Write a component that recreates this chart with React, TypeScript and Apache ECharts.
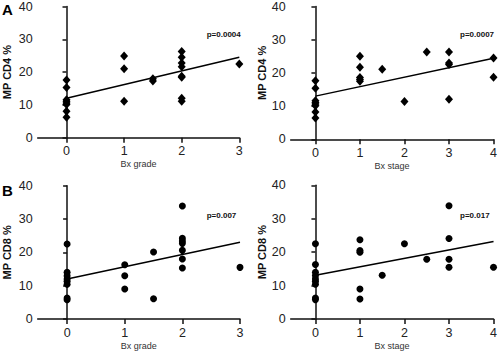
import React, { useEffect, useRef } from "react";
import * as echarts from "echarts";

// Panel A (left): MP CD4 % vs Bx grade
const cd4Grade: [number, number[]][] = [
  [0, [17.6, 15.3, 11.6, 11.1, 10.6, 10.1, 8.1, 6.2]],
  [1, [24.9, 21.0, 11.1]],
  [1.5, [18.0, 17.3]],
  [2, [26.3, 24.5, 22.8, 21.6, 18.7, 18.4, 12.0, 11.1]],
  [3, [22.5]],
];
// Panel A (right): MP CD4 % vs Bx stage
const cd4Stage: [number, number[]][] = [
  [0, [17.6, 15.4, 11.6, 11.1, 10.6, 10.1, 8.2, 6.4]],
  [1, [25.0, 21.7, 18.6, 18.0, 17.5]],
  [1.5, [21.1]],
  [2, [11.4]],
  [2.5, [26.3]],
  [3, [26.3, 23.0, 22.5, 12.1]],
  [4, [24.5, 18.7]],
];
// Panel B (left): MP CD8 % vs Bx grade
const cd8Grade: [number, number[]][] = [
  [0, [22.5, 14.0, 13.0, 12.0, 11.3, 10.4, 6.3, 5.8]],
  [1, [16.3, 13.0, 9.0]],
  [1.5, [20.1, 6.1]],
  [2, [33.9, 24.2, 23.4, 22.7, 20.6, 18.0, 15.3]],
  [3, [15.5]],
];
// Panel B (right): MP CD8 % vs Bx stage
const cd8Stage: [number, number[]][] = [
  [0, [22.5, 16.3, 14.0, 13.0, 12.0, 11.3, 10.4, 6.3, 5.8]],
  [1, [23.7, 20.5, 20.0, 9.0, 6.0]],
  [1.5, [13.1]],
  [2, [22.5]],
  [2.5, [17.9]],
  [3, [33.9, 24.1, 17.9, 15.5]],
  [4, [15.5]],
];

// Regression lines: [x, y] at the ends
const fitCd4Grade = [[0, 12.0], [3, 24.5]];
const fitCd4Stage = [[0, 13.0], [4, 24.4]];
const fitCd8Grade = [[0, 12.0], [3, 23.0]];
const fitCd8Stage = [[0, 13.1], [4, 23.2]];

const gradeTicks = [0, 1, 2, 3];
const stageTicks = [0, 1, 2, 3, 4];
const yTicks = [0, 10, 20, 30, 40];
const pValues = ["p=0.0004", "p=0.0007", "p=0.007", "p=0.017"];
const yNames = ["MP CD4 %", "MP CD4 %", "MP CD8 %", "MP CD8 %"];
const xNames = ["Bx grade", "Bx stage", "Bx grade", "Bx stage"];
const panelLetters = ["A", "B"];

const flatten = (groups: [number, number[]][]) =>
  groups.flatMap(([x, ys]) => ys.map((y) => [x, y]));

export default function App() {
  const ref = useRef<HTMLDivElement>(null);
  useEffect(() => {
    if (!ref.current) return;
    const chart = echarts.init(ref.current, undefined, { renderer: "svg" });
    const font = "Liberation Sans, Arial, sans-serif";
    const grids = [
      { left: 37.7, top: 4.3, width: 201.6, height: 133.4 },
      { left: 290.7, top: 5, width: 205.3, height: 134.3 },
      { left: 37.7, top: 185.7, width: 202.3, height: 133.6 },
      { left: 290.7, top: 185.3, width: 205.3, height: 134 },
    ];
    const xMins = [-0.5, -0.555, -0.51, -0.555];
    const xTickSets = [gradeTicks, stageTicks, gradeTicks, stageTicks];
    const yGaps = [25, 21, 25, 21];
    const axisLine = { lineStyle: { color: "#111", width: 1.5 } };
    const xAxis = grids.map((_, i) => ({
      type: "value",
      gridIndex: i,
      min: xMins[i],
      max: xTickSets[i][xTickSets[i].length - 1],
      name: xNames[i],
      nameLocation: "middle",
      nameGap: 22,
      nameTextStyle: { fontFamily: "Liberation Sans Narrow, Liberation Sans, sans-serif", fontSize: 9, color: "#333" },
      axisLine,
      axisTick: { length: 5, lineStyle: { color: "#111", width: 1.5 }, customValues: xTickSets[i] },
      axisLabel: { customValues: xTickSets[i], fontFamily: font, fontSize: 12.5, color: "#222", margin: 7 },
      splitLine: { show: false },
    }));
    const yAxis = grids.map((_, i) => ({
      type: "value",
      gridIndex: i,
      min: 0,
      max: 40,
      interval: 10,
      name: yNames[i],
      nameLocation: "middle",
      nameGap: yGaps[i],
      nameTextStyle: { fontFamily: font, fontSize: 11, fontWeight: "bold", color: "#111" },
      axisLine: { show: true, ...axisLine },
      axisTick: { show: true, length: 4, lineStyle: { color: "#111", width: 1.5 }, customValues: yTicks },
      axisLabel: { fontFamily: font, fontSize: 12.5, color: "#222", margin: 5 },
      splitLine: { show: false },
    }));
    const scatterData = [cd4Grade, cd4Stage, cd8Grade, cd8Stage];
    const fits = [fitCd4Grade, fitCd4Stage, fitCd8Grade, fitCd8Stage];
    const series: any[] = [];
    scatterData.forEach((g, i) => {
      series.push({
        type: "scatter",
        xAxisIndex: i,
        yAxisIndex: i,
        data: flatten(g),
        symbol: i < 2 ? "diamond" : "circle",
        symbolSize: i < 2 ? [8, 9] : 7,
        itemStyle: { color: "#000", opacity: 1 },
        emphasis: { disabled: true },
      });
      series.push({
        type: "line",
        xAxisIndex: i,
        yAxisIndex: i,
        data: fits[i],
        symbol: "none",
        lineStyle: { color: "#000", width: 1.5 },
      });
    });
    const pPos = [
      [206.7, 34.3],
      [460, 34.3],
      [206.7, 215],
      [460, 215.7],
    ];
    const graphic: any[] = pValues.map((t, i) => ({
      type: "text",
      x: pPos[i][0],
      y: pPos[i][1],
      style: { text: t, font: `bold 8px ${font}`, fill: "#111", textVerticalAlign: "middle" },
    }));
    panelLetters.forEach((l, i) => {
      graphic.push({
        type: "text",
        x: 2,
        y: i === 0 ? 1.5 : 182.5,
        style: { text: l, font: `bold 15px ${font}`, fill: "#000" },
      });
    });
    chart.setOption({
      animation: false,
      backgroundColor: "#fff",
      grid: grids,
      xAxis,
      yAxis,
      series,
      graphic,
    });
    return () => chart.dispose();
  }, []);
  return (
    <div
      ref={ref}
      style={{ position: "fixed", left: 0, top: 0, width: 500, height: 351 }}
    />
  );
}
